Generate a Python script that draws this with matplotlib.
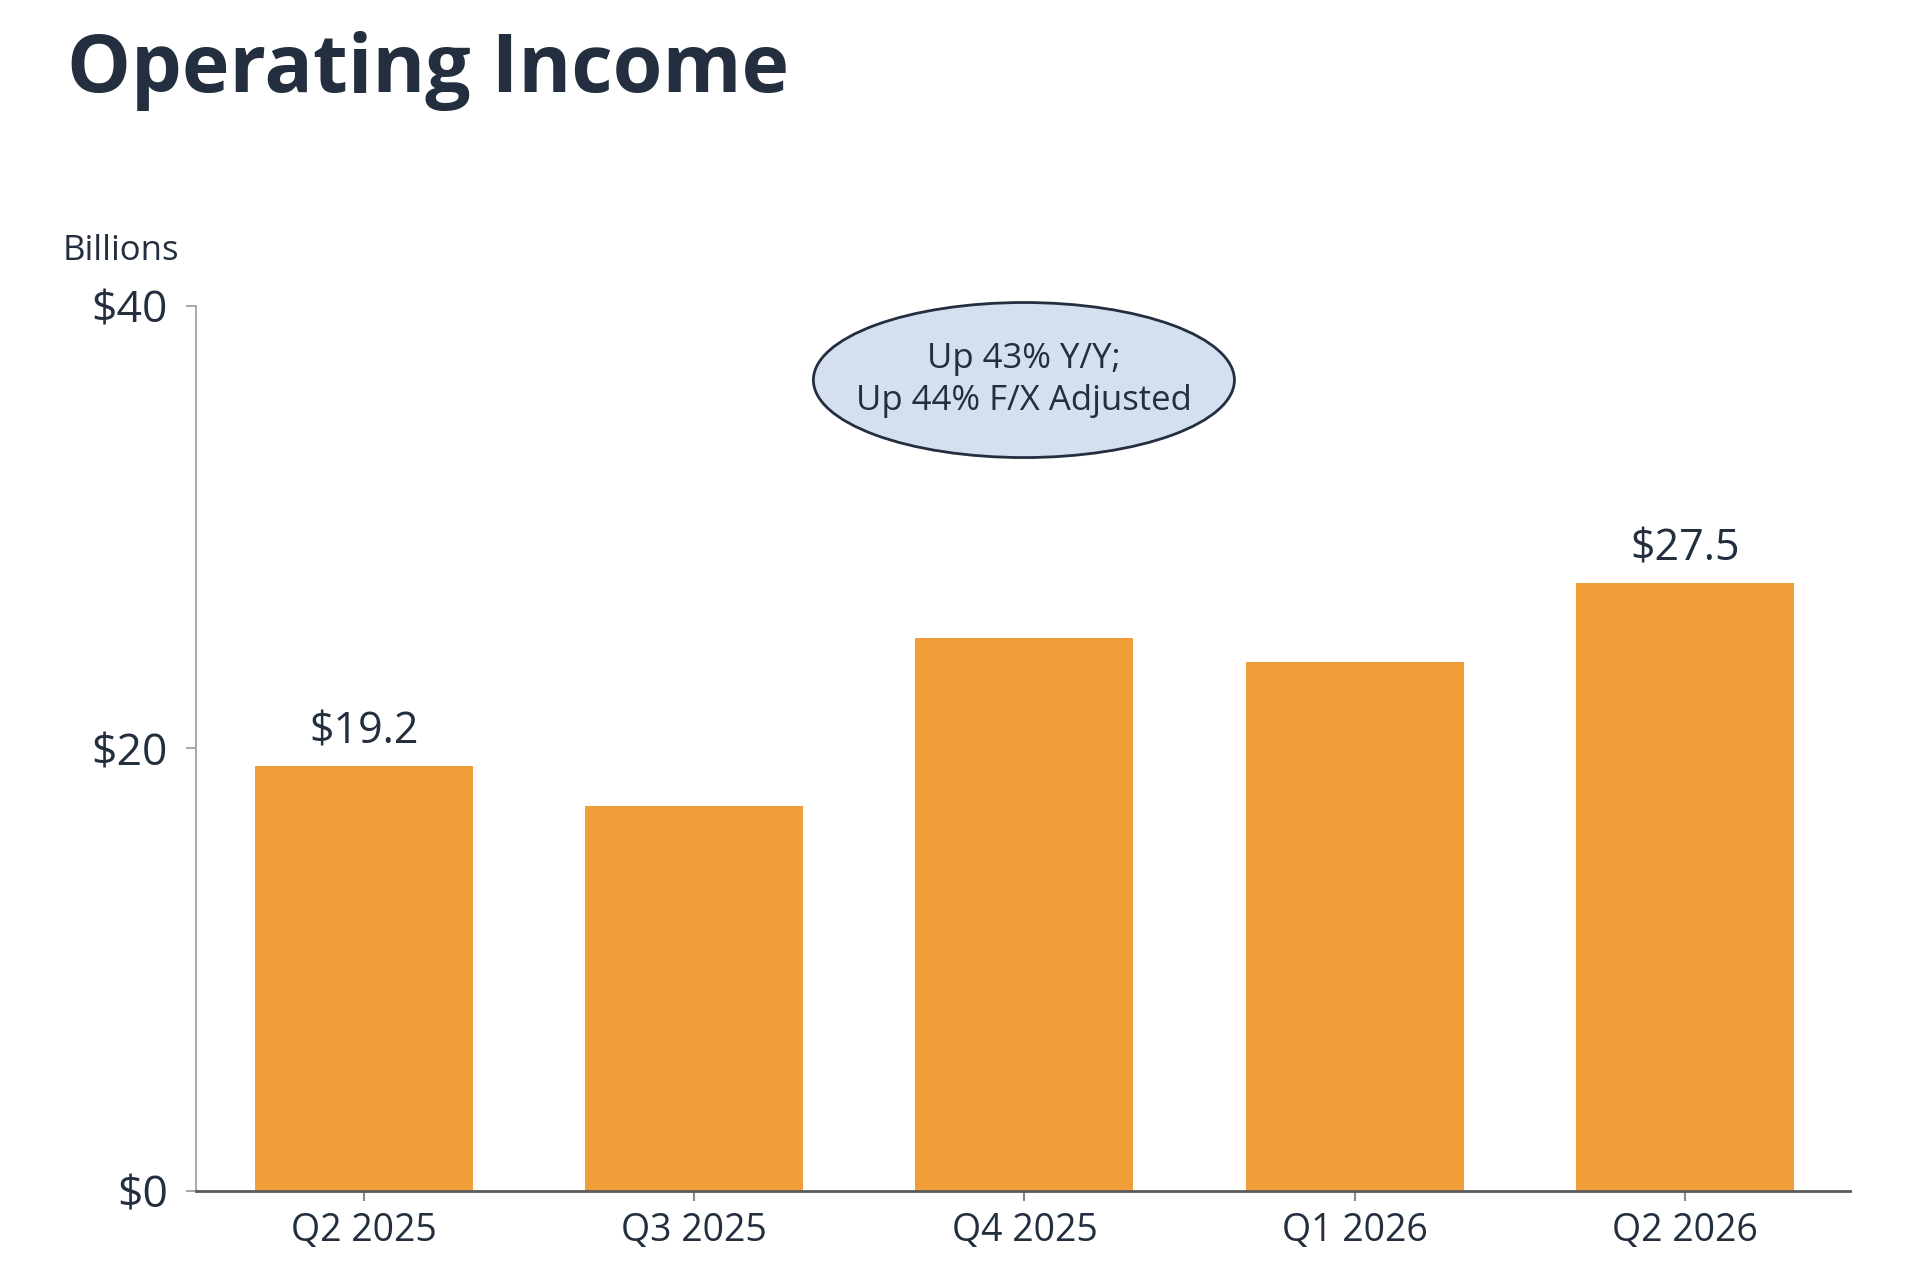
import matplotlib
matplotlib.use("Agg")
import matplotlib.pyplot as plt
from matplotlib.patches import Ellipse

quarters = ["Q2 2025", "Q3 2025", "Q4 2025", "Q1 2026", "Q2 2026"]
income = [19.2, 17.4, 25.0, 23.9, 27.5]
shown_labels = {0: "$19.2", 4: "$27.5"}
y_ticks = [0, 20, 40]
y_tick_labels = ["$0", "$20", "$40"]
note = "Up 43% Y/Y;\nUp 44% F/X Adjusted"

navy = "#232f3e"
orange = "#f19e38"

plt.rcParams["font.family"] = ["Open Sans", "DejaVu Sans"]

fig = plt.figure(figsize=(19.06, 12.74), dpi=100)
ax = fig.add_axes([0.1026, 0.0652, 0.868, 0.6946])

x = range(len(quarters))
ax.bar(x, income, width=0.66, color=orange, zorder=2)

for i, txt in shown_labels.items():
    ax.annotate(txt, (i, income[i]), xytext=(0, 16), textcoords="offset points",
                ha="center", va="baseline", fontsize=31, color=navy)

ax.set_xlim(-0.51, 4.5)
ax.set_ylim(0, 40)
ax.set_xticks(list(x))
ax.set_xticklabels(quarters, fontsize=27, color=navy)
ax.set_yticks(y_ticks)
ax.set_yticklabels(y_tick_labels, fontsize=32, color=navy)

for s in ["top", "right"]:
    ax.spines[s].set_visible(False)
ax.spines["left"].set_color("#9a9a9a")
ax.spines["left"].set_linewidth(1.2)
ax.spines["bottom"].set_color("#5a5a5a")
ax.spines["bottom"].set_linewidth(2)
ax.tick_params(axis="y", length=7, width=1.2, color="#9a9a9a", pad=13)
ax.tick_params(axis="x", length=7, width=1.5, color="#8a8a8a", pad=8)

# title and unit
fig.text(0.035, 0.9278, "Operating Income", fontsize=58, fontweight="bold",
         color=navy, va="baseline", ha="left")
fig.text(0.033, 0.796, "Billions", fontsize=25, color=navy, va="baseline", ha="left")

# callout bubble
ell = Ellipse((0.5372, 0.7017), 0.2209, 0.1217, transform=fig.transFigure,
              facecolor="#d5dff0", edgecolor=navy, linewidth=2, zorder=5)
fig.patches.append(ell)
fig.text(0.5372, 0.7017, note, fontsize=25, color=navy, ha="center", va="center",
         linespacing=1.3, zorder=6)

fig.savefig("out.png", dpi=100)
